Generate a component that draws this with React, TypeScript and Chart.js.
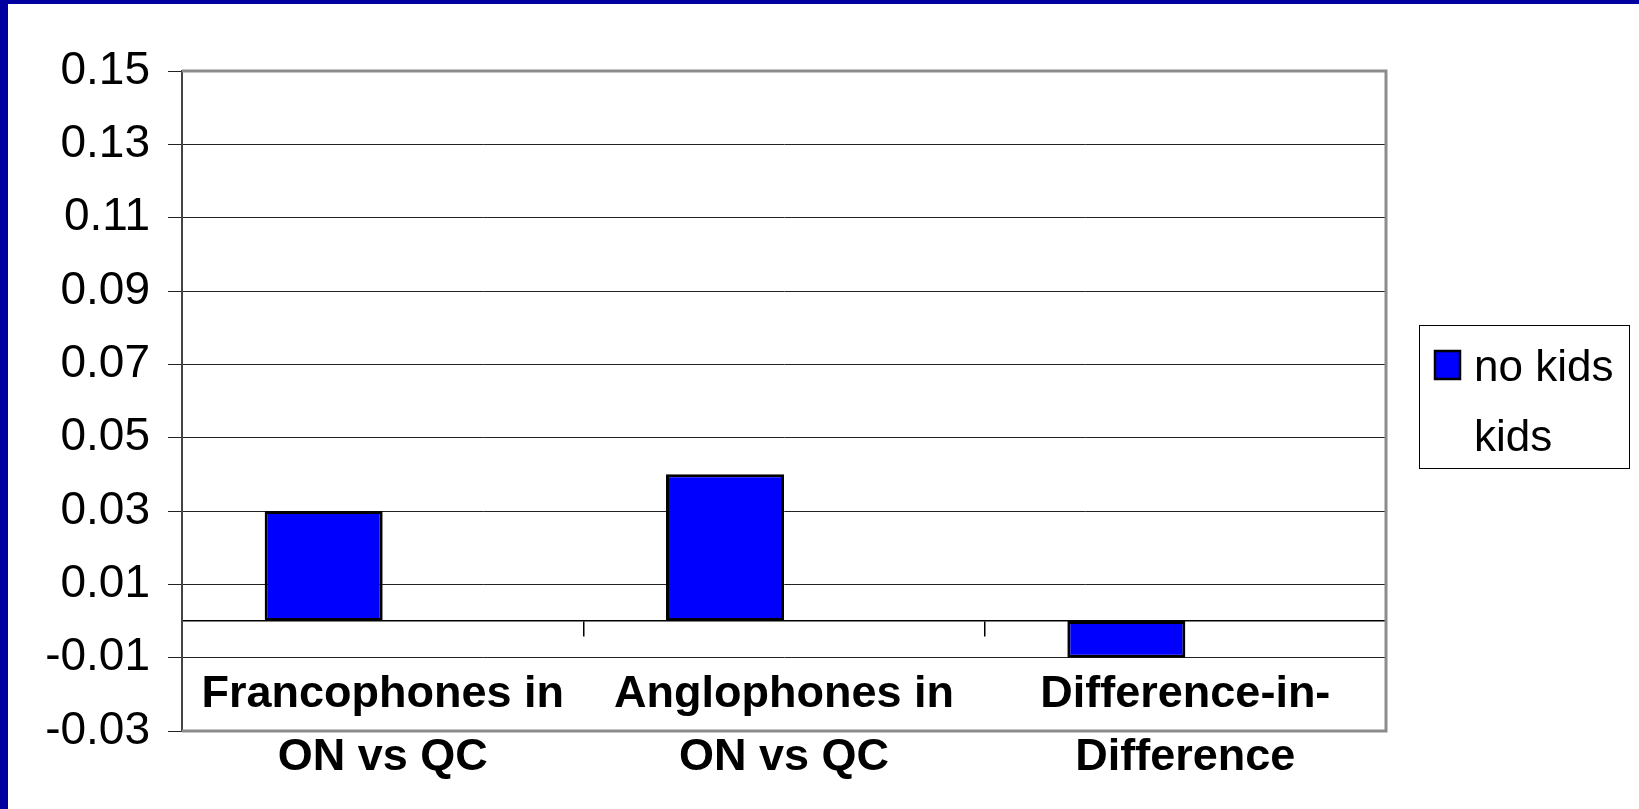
import React, { useEffect, useRef } from "react";
import { Chart, registerables } from "chart.js";

Chart.register(...registerables);

const categories: string[][] = [
  ["Francophones in", "ON vs QC"],
  ["Anglophones in", "ON vs QC"],
  ["Difference-in-", "Difference"],
];
const seriesNames = ["no kids", "kids"];
const noKids = [0.03, 0.04, -0.01];
const kids: (number | null)[] = [null, null, null];
const yMin = -0.03;
const yMax = 0.15;
const yStep = 0.02;

const FONT = "'Liberation Sans', Arial, sans-serif";

const plotBorder = {
  id: "plotBorder",
  beforeDatasetsDraw(chart: any) {
    const { ctx, chartArea: a } = chart;
    ctx.save();
    ctx.strokeStyle = "#8c8c8c";
    ctx.lineWidth = 3;
    ctx.beginPath();
    ctx.moveTo(a.left, a.top);
    ctx.lineTo(a.right, a.top);
    ctx.lineTo(a.right, a.bottom);
    ctx.lineTo(a.left, a.bottom);
    ctx.stroke();
    ctx.restore();
  },
};

const boxLegend = {
  id: "boxLegend",
  afterDraw(chart: any) {
    const { ctx } = chart;
    const x0 = 1411;
    const y0 = 321;
    const w = 210;
    const h = 143;
    ctx.save();
    ctx.fillStyle = "#ffffff";
    ctx.fillRect(x0, y0, w, h);
    ctx.strokeStyle = "#000";
    ctx.lineWidth = 1;
    ctx.strokeRect(x0 + 0.5, y0 + 0.5, w, h);
    ctx.font = `44px ${FONT}`;
    ctx.textBaseline = "alphabetic";
    ctx.textAlign = "left";
    chart.data.datasets.forEach((ds: any, i: number) => {
      const base = 377 + i * 70;
      if (ds.backgroundColor && ds.backgroundColor !== "transparent") {
        ctx.fillStyle = ds.backgroundColor;
        ctx.fillRect(1427, base - 30, 25, 28);
        ctx.strokeStyle = "#000";
        ctx.lineWidth = 2.5;
        ctx.strokeRect(1427, base - 30, 25, 28);
      }
      ctx.fillStyle = "#000";
      ctx.fillText(ds.label, 1466, base);
    });
    ctx.restore();
  },
};

export default function App() {
  const ref = useRef<HTMLCanvasElement | null>(null);

  useEffect(() => {
    document.body.style.margin = "0";
    document.body.style.overflow = "hidden";
    if (!ref.current) return;
    const chart = new Chart(ref.current, {
      type: "bar",
      data: {
        labels: categories as any,
        datasets: [
          {
            label: seriesNames[0],
            data: noKids,
            backgroundColor: "#0000ff",
            borderColor: "#000000",
            borderWidth: 3,
            borderSkipped: false,
            categoryPercentage: 0.588,
            barPercentage: 1,
          },
          {
            label: seriesNames[1],
            data: kids as any,
            backgroundColor: "transparent",
            borderColor: "transparent",
            borderWidth: 0,
            categoryPercentage: 0.588,
            barPercentage: 1,
          },
        ],
      },
      options: {
        responsive: false,
        animation: false,
        devicePixelRatio: 1,
        layout: { padding: { top: 67, right: 253, bottom: 78, left: 0 } },
        plugins: {
          legend: { display: false },
          tooltip: { enabled: false },
        },
        scales: {
          x: {
            type: "category",
            position: { y: 0 } as any,
            offset: true,
            grid: {
              offset: true,
              drawOnChartArea: false,
              drawTicks: true,
              tickLength: 15,
              color: "#000",
              tickColor: "#000",
              lineWidth: 1.5,
            },
            border: { display: true, color: "#000", width: 1.5 },
            ticks: {
              color: "#000",
              font: { family: FONT, size: 45, weight: "bold", lineHeight: 1.4 },
              padding: 27,
              maxRotation: 0,
              autoSkip: false,
            },
          },
          y: {
            type: "linear",
            min: yMin,
            max: yMax,
            afterFit(scale: any) {
              scale.width = 174;
            },
            grid: {
              color: "#222",
              lineWidth: 1,
              drawTicks: true,
              tickLength: 14,
              tickColor: "#222",
            },
            border: { display: true, color: "#444", width: 2 },
            ticks: {
              stepSize: yStep,
              color: "#000",
              padding: 18,
              font: { family: FONT, size: 46 },
              callback: (v: any) => Number(v).toFixed(2),
            },
          },
        },
      },
      plugins: [plotBorder, boxLegend],
    });
    return () => chart.destroy();
  }, []);

  return (
    <div
      style={{
        position: "fixed",
        left: 0,
        top: 0,
        width: 1639,
        height: 809,
        boxSizing: "border-box",
        background: "#fff",
        borderLeft: "8px solid #0000a0",
        borderTop: "4px solid #0000a0",
        overflow: "hidden",
      }}
    >
      <canvas ref={ref} width={1631} height={805} style={{ display: "block", width: 1631, height: 805 }} />
    </div>
  );
}
